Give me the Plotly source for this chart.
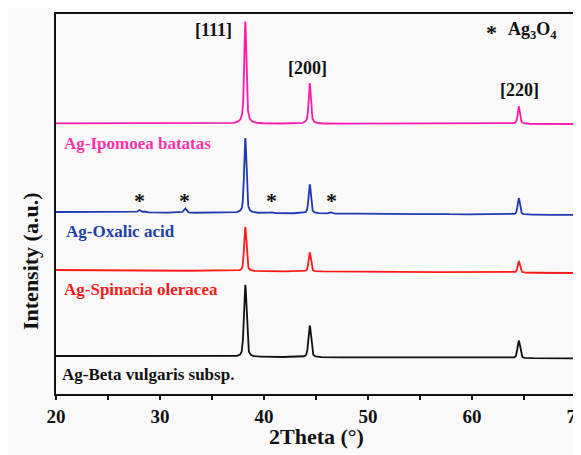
import numpy as np
import plotly.graph_objects as go

# ---- data ----
two_theta_range = [20, 70]
main_peak_pos = [38.2, 44.4, 64.5]          # (111), (200), (220)
peak_labels = ["[111]", "[200]", "[220]"]
peak_label_x = [35.1, 44.2, 64.55]
peak_label_y = [364, 326, 304]

samples = ["Ag-Beta vulgaris subsp.", "Ag-Spinacia oleracea", "Ag-Oxalic acid", "Ag-Ipomoea batatas"]
colors = ["#111111", "#ff1a1a", "#1f3ab0", "#ff19ad"]
label_colors = ["#111111", "#ff1a1a", "#2040a8", "#ff33aa"]
baseline_left = [38.0, 124.0, 182.0, 270.6]
baseline_right = [35.5, 121.0, 179.0, 270.0]
main_heights = [
    [72.0, 31.5, 17.5],
    [44.0, 19.0, 11.5],
    [75.0, 29.0, 16.5],
    [102.0, 40.5, 17.5],
]
peak_fwhm = [0.30, 0.26, 0.26, 0.24]
lorentz_frac = [0.4, 0.4, 0.5, 0.7]
label_y = [20, 105, 163, 251]
label_x_paper = [0.008, 0.012, 0.016, 0.012]

# Ag3O4 impurity peaks in Ag-Oxalic acid
oxide_pos = [28.0, 28.5, 32.4, 40.7, 46.4, 54.9, 57.5]
oxide_heights = [2.5, 1.2, 4.5, 1.0, 1.5, 0.8, 0.8]
star_x = [28.0, 32.4, 40.7, 46.5]
star_y = [194, 194, 194, 194]

SERIF = "Liberation Serif"


def profile(x, pos, h, w, eta):
    g = np.exp(-4 * np.log(2) * ((x - pos) / w) ** 2)
    l = 1.0 / (1.0 + 4 * ((x - pos) / w) ** 2)
    return h * (eta * l + (1 - eta) * g)


def bfont(size, color="#111111"):
    return dict(family=SERIF, size=size, color=color, weight="bold")


x = np.linspace(two_theta_range[0], two_theta_range[1], 2501)

fig = go.Figure()
for i, name in enumerate(samples):
    y = baseline_left[i] + (baseline_right[i] - baseline_left[i]) * (x - x[0]) / (x[-1] - x[0])
    for p, h in zip(main_peak_pos, main_heights[i]):
        y = y + profile(x, p, h, peak_fwhm[i], lorentz_frac[i])
    if name == "Ag-Oxalic acid":
        for p, h in zip(oxide_pos, oxide_heights):
            y = y + profile(x, p, h, 0.3, 0.3)
    fig.add_trace(go.Scatter(x=x, y=y, mode="lines", line=dict(color=colors[i], width=1.8),
                             showlegend=False, hoverinfo="skip"))
    fig.add_annotation(x=label_x_paper[i], xref="paper", y=label_y[i], yref="y",
                       text=name, showarrow=False, xanchor="left", yanchor="middle",
                       font=bfont(17, label_colors[i]))

for lx, ly, t in zip(peak_label_x, peak_label_y, peak_labels):
    fig.add_annotation(x=lx, y=ly, text=t, showarrow=False, font=bfont(18))

for sx, sy in zip(star_x, star_y):
    fig.add_annotation(x=sx, y=sy, text="*", showarrow=False, font=bfont(22))

fig.add_annotation(x=61.85, y=362, text="*", showarrow=False, font=bfont(22))
fig.add_annotation(x=65.8, y=364, text="Ag<sub>3</sub>O<sub>4</sub>", showarrow=False,
                   font=bfont(18))

fig.add_annotation(x=-0.05, xref="paper", y=0.35, yref="paper", text="Intensity (a.u.)",
                   textangle=-90, showarrow=False, xanchor="center", yanchor="middle",
                   font=bfont(22))
fig.add_annotation(x=0.5, xref="paper", y=-0.113, yref="paper", text="2Theta (°)",
                   showarrow=False, xanchor="center", yanchor="middle",
                   font=bfont(22))

fig.update_xaxes(range=two_theta_range, tickmode="array", tickvals=[20, 30, 40, 50, 60, 70],
                 ticks="outside", ticklen=4, tickwidth=1.5, tickcolor="#111111",
                 minor=dict(tickvals=[25, 35, 45, 55, 65], ticks="outside", ticklen=4,
                            tickwidth=1.5, tickcolor="#111111"),
                 showline=True, linecolor="#111111", linewidth=1.8, mirror=True,
                 showgrid=False, zeroline=False, ticklabeloverflow="allow",
                 tickfont=bfont(19))
fig.update_yaxes(range=[0, 380], showticklabels=False, ticks="",
                 showline=True, linecolor="#111111", linewidth=1.8, mirror=True,
                 showgrid=False, zeroline=False)

fig.update_layout(width=573, height=447, margin=dict(l=48, r=5, t=6, b=61, autoexpand=False),
                  paper_bgcolor="#f9f9f9", plot_bgcolor="#f9f9f9",
                  font=dict(family=SERIF, color="#111111"))

fig.write_html("out.html")
